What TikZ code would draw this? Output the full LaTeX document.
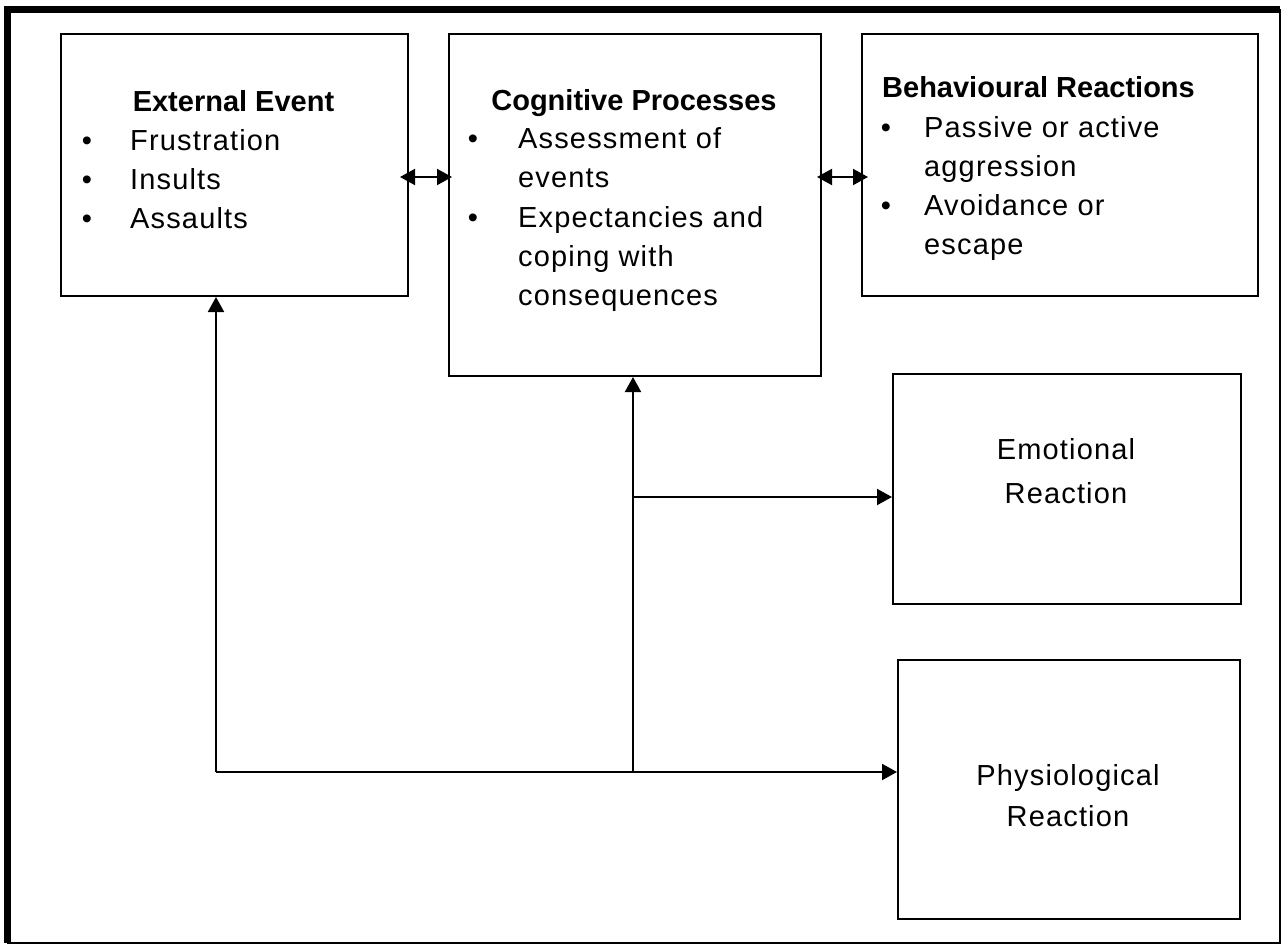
\documentclass[tikz,border=0pt]{standalone}
\usepackage{fontspec}
\setmainfont{Liberation Sans}
\newfontfamily\itemfont[LetterSpace=4]{Liberation Sans}
\usetikzlibrary{arrows.meta}

\begin{document}
\begin{tikzpicture}[x=1pt,y=-1pt,
  box/.style={draw,line width=2pt,inner sep=0pt,anchor=north west},
  arr/.style={line width=2pt,-{Triangle[length=15pt,width=16pt]}},
  darr/.style={line width=2pt,{Triangle[length=15pt,width=16pt]}-{Triangle[length=15pt,width=16pt]}},
  ttl/.style={font=\fontsize{29}{35}\selectfont\bfseries,inner sep=0pt,anchor=base},
  ttlw/.style={font=\fontsize{29}{35}\selectfont\bfseries,inner sep=0pt,anchor=base west},
  itm/.style={font=\fontsize{29}{35}\itemfont,inner sep=0pt,anchor=base west},
  bul/.style={font=\fontsize{29}{35}\selectfont,inner sep=0pt,anchor=base},
  ctr/.style={font=\fontsize{29}{35}\itemfont,inner sep=0pt,anchor=base}]

\useasboundingbox (0,0) rectangle (1283,945);

% page frame: heavy on left and top, thin on right and bottom
\draw[line width=2pt] (7.5,9.5) rectangle (1280,943);
\draw[line width=7pt] (7.5,943) -- (7.5,9.5) -- (1280,9.5);

% boxes
\node[box, minimum width=347pt, minimum height=262pt] (ext) at (60,33) {};
\node[box, minimum width=372pt, minimum height=342pt] (cog) at (448,33) {};
\node[box, minimum width=396pt, minimum height=262pt] (beh) at (861,33) {};
\node[box, minimum width=348pt, minimum height=230pt] (emo) at (892,373) {};
\node[box, minimum width=342pt, minimum height=259pt] (phy) at (897,659) {};

% External Event
\node[ttl] (extT) at (233.5,111) {External Event};
\node[bul] (extB1) at (87,150) {•};
\node[bul] (extB2) at (87,189) {•};
\node[bul] (extB3) at (87,228) {•};
\node[itm] (extI1) at (130,150) {Frustration};
\node[itm] (extI2) at (130,189) {Insults};
\node[itm] (extI3) at (130,228) {Assaults};

% Cognitive Processes
\node[ttl] (cogT) at (634,110) {Cognitive Processes};
\node[bul] (cogB1) at (473,148) {•};
\node[bul] (cogB2) at (473,227) {•};
\node[itm] (cogI1) at (518,148) {Assessment of};
\node[itm] (cogI2) at (518,187) {events};
\node[itm] (cogI3) at (518,227) {Expectancies and};
\node[itm] (cogI4) at (518,266) {coping with};
\node[itm] (cogI5) at (518,305) {consequences};

% Behavioural Reactions
\node[ttlw] (behT) at (882,97) {Behavioural Reactions};
\node[bul] (behB1) at (886,137) {•};
\node[bul] (behB2) at (886,215) {•};
\node[itm] (behI1) at (924,137) {Passive or active};
\node[itm] (behI2) at (924,176) {aggression};
\node[itm] (behI3) at (924,215) {Avoidance or};
\node[itm] (behI4) at (924,254) {escape};

% Emotional and physiological reactions
\node[ctr] (emoT1) at (1066,459) {Emotional};
\node[ctr] (emoT2) at (1066,503) {Reaction};
\node[ctr] (phyT1) at (1068,785) {Physiological};
\node[ctr] (phyT2) at (1068,826) {Reaction};

% connectors
\coordinate (c1) at (216,772);
\coordinate (c2) at (633,772);
\coordinate (c3) at (633,497);
\coordinate (h1) at (0,177);

\draw[darr, shorten <=-9pt, shorten >=-4pt] (ext.east |- h1) -- (cog.west |- h1);
\draw[darr, shorten <=-5pt, shorten >=-7pt] (cog.east |- h1) -- (beh.west |- h1);
\draw[arr] (c1) -- (c1 |- ext.south);
\draw[arr] (c1) -- (c1 -| phy.west);
\draw[arr] (c2) -- (c2 |- cog.south);
\draw[arr] (c3) -- (c3 -| emo.west);
\end{tikzpicture}
\end{document}
